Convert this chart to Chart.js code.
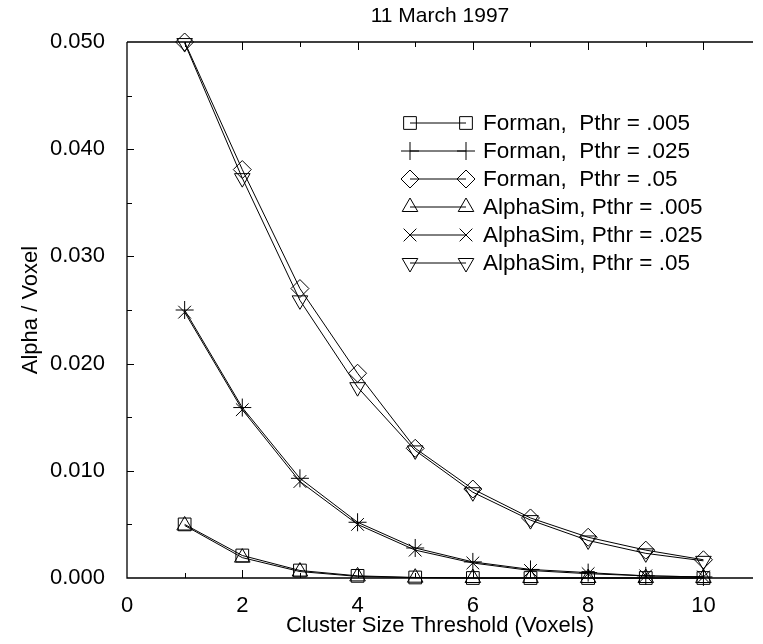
<!DOCTYPE html>
<html>
  <script src="https://cdn.jsdelivr.net/npm/chart.js@4.4.1/dist/chart.umd.min.js"></script>
  <style>
    html, body {
      margin: 0;
      padding: 0;
      background: #fff;
    }
    .wrap {
      width: 763px;
      height: 644px;
    }
  </style>
  <body>
    <div class="wrap"><canvas id="myChart" width="763" height="644"></canvas></div>

    <script>
      // cluster size threshold (voxels)
      const clusterSizes = [1, 2, 3, 4, 5, 6, 7, 8, 9, 10];

      // alpha per voxel
      const formanP005 = [0.0050, 0.0021, 0.0007, 0.0002, 0.00005, 0, 0, 0, 0, 0];
      const formanP025 = [0.0250, 0.0159, 0.0093, 0.0052, 0.0028, 0.0015, 0.0008, 0.0005, 0.0002, 0.0001];
      const formanP05 = [0.0500, 0.0381, 0.0270, 0.0191, 0.0121, 0.0083, 0.0056, 0.0038, 0.0026, 0.0017];
      const alphaSimP005 = [0.0049, 0.0019, 0.0006, 0.00015, 0.00003, 0, 0, 0, 0, 0];
      const alphaSimP025 = [0.0248, 0.0157, 0.0090, 0.0050, 0.0026, 0.0014, 0.0007, 0.0004, 0.0002, 0.0001];
      const alphaSimP05 = [0.0499, 0.0373, 0.0259, 0.0178, 0.0119, 0.0080, 0.0054, 0.0035, 0.0023, 0.0016];

      const seriesLabels = [
        "Forman,  Pthr = .005",
        "Forman,  Pthr = .025",
        "Forman,  Pthr = .05",
        "AlphaSim, Pthr = .005",
        "AlphaSim, Pthr = .025",
        "AlphaSim, Pthr = .05",
      ];
      const seriesValues = [formanP005, formanP025, formanP05, alphaSimP005, alphaSimP025, alphaSimP05];
      const seriesMarkers = ["rect", "cross", "rectRot", "triangle", "crossRot", "triangle"];
      const seriesRotation = [0, 0, 0, 0, 0, 180];

      const xTickLabels = [0, 2, 4, 6, 8, 10];
      const yTickLabels = [0, 0.01, 0.02, 0.03, 0.04, 0.05];

      const titleText = "11 March 1997";
      const xTitle = "Cluster Size Threshold (Voxels)";
      const yTitle = "Alpha / Voxel";

      const FONT = "'Liberation Sans', Arial, Helvetica, sans-serif";

      const datasets = seriesLabels.map(function (label, i) {
        return {
          label: label,
          data: clusterSizes.map((x, j) => ({ x: x, y: seriesValues[i][j] })),
          borderColor: "#000",
          backgroundColor: "rgba(0,0,0,0)",
          borderWidth: 1,
          pointStyle: seriesMarkers[i],
          pointRotation: seriesRotation[i],
          pointRadius: 9,
          pointBorderWidth: 1,
          pointBorderColor: "#000",
          pointBackgroundColor: "rgba(0,0,0,0)",
          tension: 0,
          clip: false,
        };
      });

      // axis lines + inward ticks like the old plot
      const frameAxes = {
        id: "frameAxes",
        afterDatasetsDraw(chart) {
          const ctx = chart.ctx;
          const a = chart.chartArea;
          const xs = chart.scales.x;
          const ys = chart.scales.y;
          ctx.save();
          ctx.strokeStyle = "#000";
          ctx.lineWidth = 1.3;
          ctx.beginPath();
          ctx.moveTo(a.left, a.top);
          ctx.lineTo(a.right, a.top);
          ctx.moveTo(a.left, a.top);
          ctx.lineTo(a.left, a.bottom);
          ctx.lineTo(a.right, a.bottom);
          ctx.stroke();

          ctx.lineWidth = 1;
          ctx.beginPath();
          for (let v = 1; v <= 10; v++) {
            const px = Math.round(xs.getPixelForValue(v)) + 0.5;
            const len = v % 2 === 0 ? 8 : 5;
            ctx.moveTo(px, a.bottom);
            ctx.lineTo(px, a.bottom - len);
            ctx.moveTo(px, a.top);
            ctx.lineTo(px, a.top + len);
          }
          for (let k = 1; k < 10; k++) {
            const py = Math.round(ys.getPixelForValue(k * 0.005)) + 0.5;
            const len = k % 2 === 0 ? 7 : 5;
            ctx.moveTo(a.left, py);
            ctx.lineTo(a.left + len, py);
          }
          ctx.stroke();
          ctx.restore();
        },
      };

      // title centred over the plot frame
      const plotTitle = {
        id: "plotTitle",
        afterDraw(chart) {
          const ctx = chart.ctx;
          const a = chart.chartArea;
          ctx.save();
          ctx.fillStyle = "#000";
          ctx.font = "21px " + FONT;
          ctx.textAlign = "center";
          ctx.textBaseline = "middle";
          ctx.fillText(titleText, (a.left + a.right) / 2, 16);
          ctx.restore();
        },
      };

      // legend with a line sample and a marker at both ends
      const lineLegend = {
        id: "lineLegend",
        afterDraw(chart) {
          const ctx = chart.ctx;
          const x0 = 410;
          const x1 = 466;
          const y0 = 123;
          const rowH = 28;
          ctx.save();
          ctx.font = "22.5px " + FONT;
          ctx.textBaseline = "middle";
          ctx.textAlign = "left";
          chart.data.datasets.forEach(function (ds, i) {
            const y = y0 + i * rowH;
            ctx.strokeStyle = "#000";
            ctx.fillStyle = "rgba(0,0,0,0)";
            ctx.lineWidth = 1;
            ctx.beginPath();
            ctx.moveTo(x0, y);
            ctx.lineTo(x1, y);
            ctx.stroke();
            const opts = {
              pointStyle: ds.pointStyle,
              rotation: ds.pointRotation,
              radius: ds.pointRadius,
              borderWidth: 1,
            };
            Chart.helpers.drawPoint(ctx, opts, x0, y);
            Chart.helpers.drawPoint(ctx, opts, x1, y);
            ctx.fillStyle = "#000";
            ctx.fillText(ds.label, 483, y + 1);
          });
          ctx.restore();
        },
      };

      new Chart(document.getElementById("myChart"), {
        type: "line",
        data: { datasets: datasets },
        plugins: [frameAxes, plotTitle, lineLegend],
        options: {
          responsive: false,
          animation: false,
          layout: { padding: { top: 42, right: 0, bottom: 0, left: 0 } },
          plugins: {
            legend: { display: false },
            title: { display: false },
            tooltip: { enabled: false },
          },
          scales: {
            x: {
              type: "linear",
              min: 0,
              max: 10.86,
              afterBuildTicks(scale) {
                scale.ticks = xTickLabels.map((v) => ({ value: v }));
              },
              afterFit(scale) {
                scale.height = 66;
              },
              grid: { display: false },
              border: { display: false },
              ticks: {
                color: "#000",
                font: { family: FONT, size: 22 },
                padding: 7,
                maxRotation: 0,
                autoSkip: false,
                callback: (v) => String(v),
              },
              title: {
                display: true,
                text: xTitle,
                color: "#000",
                font: { family: FONT, size: 22 },
                padding: { top: 0, bottom: 5 },
              },
            },
            y: {
              type: "linear",
              min: 0,
              max: 0.05,
              afterBuildTicks(scale) {
                scale.ticks = yTickLabels.map((v) => ({ value: v }));
              },
              afterFit(scale) {
                scale.width = 127;
              },
              grid: { display: false },
              border: { display: false },
              ticks: {
                color: "#000",
                font: { family: FONT, size: 22 },
                padding: 14,
                autoSkip: false,
                callback: (v) => Number(v).toFixed(3),
              },
              title: {
                display: true,
                text: yTitle,
                color: "#000",
                font: { family: FONT, size: 22 },
                padding: { top: 18, bottom: 0 },
              },
            },
          },
        },
      });
    </script>
  </body>
</html>
